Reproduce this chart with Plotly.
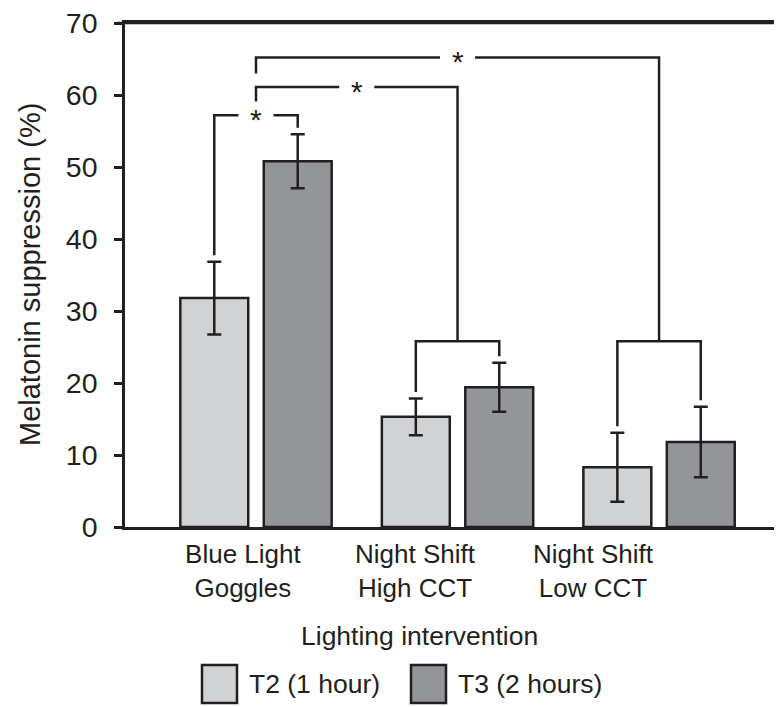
import plotly.graph_objects as go

# ---------------- data ----------------
categories = ["Blue Light<br>Goggles", "Night Shift<br>High CCT", "Night Shift<br>Low CCT"]
series_names = ["T2 (1 hour)", "T3 (2 hours)"]
t2_values = [31.8, 15.3, 8.3]
t2_errors = [5.05, 2.55, 4.8]
t3_values = [50.8, 19.4, 11.8]
t3_errors = [3.75, 3.4, 4.9]
y_ticks = [0, 10, 20, 30, 40, 50, 60, 70]

# significance bracket heights (in % units)
within_level = 57.2          # Blue Light Goggles T2 vs T3
between_levels = [61.1, 65.2]  # Goggles vs High CCT, Goggles vs Low CCT
sub_level = 25.8             # group brackets over Night Shift groups
sig_label = "*"

# ---------------- style ----------------
INK = "#231f20"
LIGHT = "#d1d2d4"
DARK = "#939598"
FONT = "Liberation Sans, Arial, Helvetica, sans-serif"
LW = 2.5
offset = 0.207
bar_w = 0.337
drop_gap = 0.9
step_gap = 1.9
star_half = 0.087

groups = list(range(len(categories)))
t2_x = [g - offset for g in groups]
t3_x = [g + offset for g in groups]
t2_top = [v + e for v, e in zip(t2_values, t2_errors)]
t3_top = [v + e for v, e in zip(t3_values, t3_errors)]

fig = go.Figure()
fig.add_trace(go.Bar(x=t2_x, y=t2_values, width=bar_w, name=series_names[0],
                     marker=dict(color=LIGHT, line=dict(color=INK, width=LW)),
                     error_y=dict(type="data", array=t2_errors, color=INK, thickness=LW, width=7),
                     showlegend=False))
fig.add_trace(go.Bar(x=t3_x, y=t3_values, width=bar_w, name=series_names[1],
                     marker=dict(color=DARK, line=dict(color=INK, width=LW)),
                     error_y=dict(type="data", array=t3_errors, color=INK, thickness=LW, width=7),
                     showlegend=False))

# brackets
bx, by = [], []
stars = []
mid0 = groups[0]
bx += [t2_x[0], t2_x[0], mid0 - star_half, None, mid0 + star_half, t3_x[0], t3_x[0], None]
by += [t2_top[0] + drop_gap, within_level, within_level, None, within_level, within_level, t3_top[0] + drop_gap, None]
stars.append((mid0, within_level))
prev = within_level
for g, lvl in zip(groups[1:], between_levels):
    bx += [t2_x[g], t2_x[g], t3_x[g], t3_x[g], None]
    by += [t2_top[g] + drop_gap, sub_level, sub_level, t3_top[g] + drop_gap, None]
    mid = (groups[0] + g) / 2
    bx += [groups[0], groups[0], mid - star_half, None, mid + star_half, g, g, None]
    by += [prev + step_gap, lvl, lvl, None, lvl, lvl, sub_level, None]
    stars.append((mid, lvl))
    prev = lvl

fig.add_trace(go.Scatter(x=bx, y=by, mode="lines", line=dict(color=INK, width=LW),
                         hoverinfo="skip", showlegend=False, cliponaxis=False))

for sx, sy in stars:
    fig.add_annotation(x=sx, y=sy, text=sig_label, showarrow=False, xanchor="center",
                       yanchor="middle", yshift=-4, font=dict(size=30, color=INK, family=FONT))

# category labels (offset left of groups as in original)
label_pos = [-0.065, 0.789, 1.672]

fig.update_layout(
    width=774, height=699,
    margin=dict(l=117, r=0, t=15, b=180),
    plot_bgcolor="white", paper_bgcolor="white",
    barmode="overlay",
    font=dict(family=FONT, color=INK),
    xaxis=dict(range=[-0.65, 2.61], showline=True, linecolor=INK, linewidth=LW, mirror=True,
               tickvals=label_pos, ticktext=categories, ticks="", showgrid=False, zeroline=False,
               tickfont=dict(size=26, color=INK, family=FONT), ticklabelstandoff=2),
    yaxis=dict(range=[0, 70], tickvals=y_ticks, showline=True, linecolor=INK, linewidth=LW,
               ticks="outside", ticklen=8, tickwidth=LW, tickcolor=INK, showgrid=False,
               zeroline=False, tickfont=dict(size=28.5, color=INK, family=FONT),
               ticklabelstandoff=11, ticklabeloverflow="allow"),
)

# top frame line (from the 70 tick to the right edge)
fig.add_shape(type="line", xref="paper", yref="paper", x0=-8 / 657, x1=1, y0=1, y1=1,
              line=dict(color=INK, width=LW), layer="above")

# axis titles
fig.add_annotation(xref="paper", yref="paper", x=(30 - 125) / 657, y=0.5, textangle=-90,
                   text="Melatonin suppression (%)", showarrow=False, xanchor="center",
                   yanchor="middle", font=dict(size=29, color=INK, family=FONT))
fig.add_annotation(xref="paper", yref="paper", x=(419 - 125) / 657, y=(527 - 636) / 504,
                   text="Lighting intervention", showarrow=False, xanchor="center",
                   yanchor="middle", font=dict(size=26.5, color=INK, family=FONT))

# legend (manual)
leg_items = [(series_names[0], LIGHT, 202), (series_names[1], DARK, 411)]
for name, col, px in leg_items:
    fig.add_shape(type="rect", xref="paper", yref="paper",
                  x0=(px - 125) / 657, x1=(px + 35 - 125) / 657,
                  y0=(527 - 703) / 504, y1=(527 - 665) / 504,
                  fillcolor=col, line=dict(color=INK, width=LW))
    fig.add_annotation(xref="paper", yref="paper", x=(px + 45 - 125) / 657, y=(527 - 684) / 504,
                       text=name, showarrow=False, xanchor="left", yanchor="middle",
                       font=dict(size=26.5, color=INK, family=FONT))

fig.write_html("out.html")
